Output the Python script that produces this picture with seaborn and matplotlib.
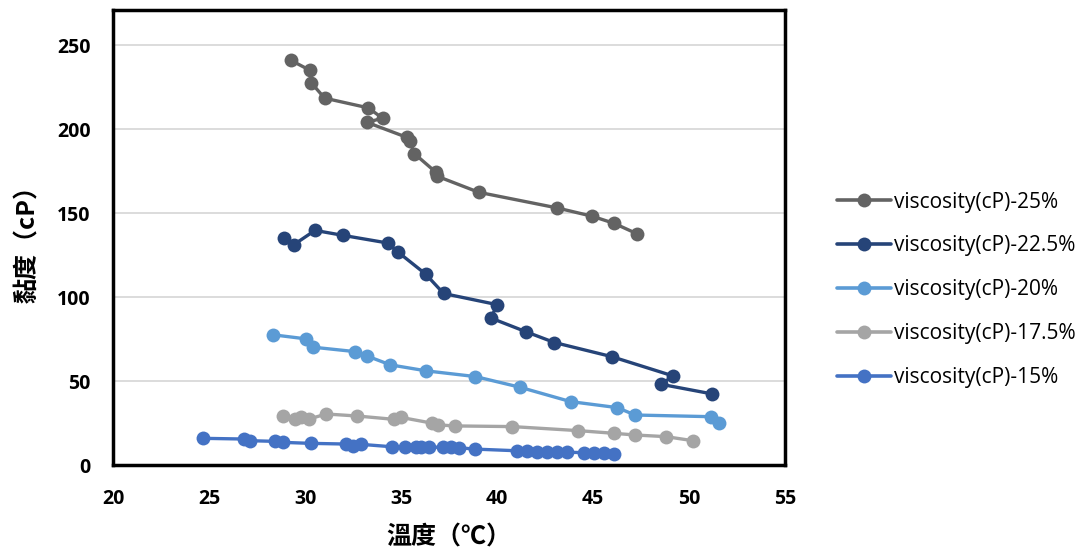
import numpy as np
import pandas as pd
import matplotlib
matplotlib.use("Agg")
import matplotlib.pyplot as plt
import seaborn as sns

# Viscosity vs. temperature for five concentrations (points in measurement order)
temp_25 = [29.25, 30.24, 30.33, 31.02, 33.3, 34.04, 33.22, 35.29, 35.46, 35.69, 36.82, 36.9, 39.05,
           43.13, 44.97, 46.1, 47.29]
visc_25 = [241.2, 235.3, 227.7, 218.6, 212.8, 206.6, 204.2, 195.3, 192.9, 185.6, 174.4, 172.0, 162.5,
           153.2, 148.2, 144.0, 137.8]

temp_225 = [28.9, 29.42, 30.52, 32.0, 34.3, 34.82, 36.28, 37.22, 39.99, 39.7, 41.49, 42.99, 45.97,
            49.17, 48.55, 51.19]
visc_225 = [135.3, 131.3, 139.8, 136.8, 132.3, 127.1, 113.8, 102.2, 95.6, 87.5, 79.5, 73.0, 64.6,
            53.1, 48.1, 42.4]

temp_20 = [28.33, 30.03, 30.43, 32.59, 33.22, 34.44, 36.32, 38.88, 41.18, 43.83, 46.27, 47.19,
           51.15, 51.57]
visc_20 = [77.6, 75.2, 70.2, 67.6, 65.0, 59.7, 56.1, 52.7, 46.4, 37.8, 34.2, 29.8, 28.8, 24.9]

temp_175 = [28.85, 29.47, 29.77, 30.2, 31.11, 32.73, 34.65, 34.99, 36.64, 36.94, 37.81, 40.8,
            44.23, 46.09, 47.19, 48.81, 50.21]
visc_175 = [29.4, 27.2, 28.8, 27.4, 30.4, 29.2, 27.2, 28.4, 24.9, 23.9, 23.3, 22.9, 20.5, 18.9,
            17.9, 16.9, 14.5]

temp_15 = [24.7, 26.8, 27.16, 28.43, 28.85, 30.33, 32.16, 32.52, 32.94, 34.51, 35.2, 35.78, 36.04,
           36.48, 37.17, 37.61, 38.04, 38.83, 41.04, 41.56, 42.08, 42.6, 43.13, 43.65, 44.52,
           45.04, 45.56, 46.08]
visc_15 = [15.9, 15.5, 14.5, 14.1, 13.5, 12.9, 12.5, 11.5, 12.3, 10.9, 10.9, 10.7, 10.7, 10.5,
           10.7, 10.5, 10.3, 9.5, 8.5, 8.4, 8.0, 8.0, 8.0, 7.6, 7.4, 7.0, 7.0, 6.6]

series_names = ["viscosity(cP)-25%", "viscosity(cP)-22.5%", "viscosity(cP)-20%",
                "viscosity(cP)-17.5%", "viscosity(cP)-15%"]
series_temps = [temp_25, temp_225, temp_20, temp_175, temp_15]
series_visc = [visc_25, visc_225, visc_20, visc_175, visc_15]
series_colors = ["#636363", "#264478", "#5B9BD5", "#A5A5A5", "#4472C4"]

x_ticks = [20, 25, 30, 35, 40, 45, 50, 55]
y_ticks = [0, 50, 100, 150, 200, 250]

frames = []
for name, t, v in zip(series_names, series_temps, series_visc):
    frames.append(pd.DataFrame({"temp": t, "visc": v, "series": name,
                                "order": np.arange(len(t))}))
df = pd.concat(frames, ignore_index=True)

sns.set_theme(style="white")
plt.rcParams["font.family"] = ["Noto Sans CJK TC", "DejaVu Sans"]
plt.rcParams["text.color"] = "black"
plt.rcParams["axes.labelcolor"] = "black"
plt.rcParams["xtick.color"] = "black"
plt.rcParams["ytick.color"] = "black"

fig = plt.figure(figsize=(10.89, 5.54), dpi=100)
ax = fig.add_axes([0.1038, 0.1606, 0.617, 0.821])

sns.lineplot(data=df, x="temp", y="visc", hue="series", hue_order=series_names,
             palette=dict(zip(series_names, series_colors)), sort=False, estimator=None,
             units="series", marker="o", markersize=10, markeredgewidth=0,
             linewidth=2.4, ax=ax, legend=True)

ax.set_xlim(20, 55)
ax.set_ylim(0, 271)
ax.set_xticks(x_ticks)
ax.set_yticks(y_ticks)
ax.yaxis.grid(True, color="#D9D9D9", linewidth=1.3)
ax.xaxis.grid(False)
ax.set_axisbelow(True)

for spine in ax.spines.values():
    spine.set_visible(True)
    spine.set_color("black")
    spine.set_linewidth(2.5)

ax.tick_params(axis="both", length=0, labelsize=14, labelcolor="black")
ax.tick_params(axis="x", pad=17)
ax.tick_params(axis="y", pad=16)
for lbl in ax.get_xticklabels() + ax.get_yticklabels():
    lbl.set_fontweight("bold")
    lbl.set_family(["Open Sans", "DejaVu Sans"])

ax.set_xlabel("溫度（℃）", fontsize=18, fontweight="bold", labelpad=12, color="black")
ax.set_ylabel("黏度（cP）", fontsize=18, fontweight="bold", labelpad=12, color="black")

handles, labels = ax.get_legend_handles_labels()
leg = ax.legend(handles, labels, loc="center left", bbox_to_anchor=(1.049, 0.385),
                frameon=False, fontsize=15, handlelength=2.6, labelspacing=1.1,
                handletextpad=0.15)
for txt in leg.get_texts():
    txt.set_family(["Open Sans", "DejaVu Sans"])
    txt.set_color("black")
for line in leg.get_lines():
    line.set_linewidth(2.6)

fig.savefig("out.png", dpi=100, facecolor="white")
